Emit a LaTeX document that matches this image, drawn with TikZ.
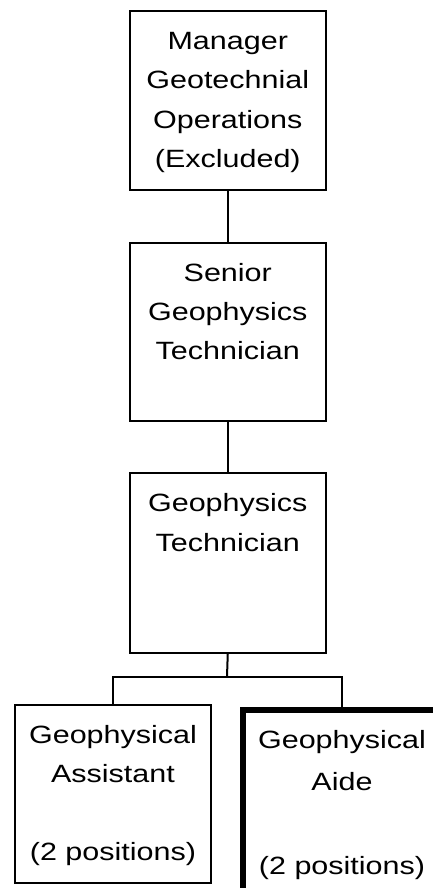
\documentclass[tikz,border=0pt]{standalone}
\usepackage{fontspec}
\setmainfont{Liberation Sans}[FakeStretch=1.22]
\begin{document}
\begin{tikzpicture}[x=1pt,y=-1pt,
  orgbox/.style={draw=black, line width=2pt, inner sep=0pt, anchor=north west, fill=white},
  thickbox/.style={orgbox, line width=6pt},
  conn/.style={draw=black, line width=2pt}]
\useasboundingbox (0,0) rectangle (432,888);
\fill[white] (0,0) rectangle (432,888);
\newcommand{\orgtext}[4]{\parbox[t][#2pt][t]{#1pt}{\centering\fontsize{25}{#3}\selectfont\rule{0pt}{38.5pt}#4\par}}
\node[orgbox] (m) at (129,10) {\orgtext{195.5}{179}{39.5}{Manager\\Geotechnial\\Operations\\(Excluded)}};
\node[orgbox] (s) at (129,242) {\orgtext{195.5}{178}{39}{Senior\\Geophysics\\Technician}};
\node[orgbox] (t) at (129,472) {\orgtext{195.5}{180}{40}{Geophysics\\Technician}};
\node[orgbox] (a) at (14,704) {\orgtext{196}{178}{39}{Geophysical\\Assistant\\[39pt](2 positions)}};
\node[thickbox] (b) at (239.5,706.5) {\orgtext{199}{186}{42}{Geophysical\\Aide\\[42pt](2 positions)}};
\coordinate (bar) at (227,676.5);
\draw[conn] (m.south) -- (s.north);
\draw[conn] (s.south) -- (t.north);
\draw[conn] (t.south) -- (bar);
\draw[conn] (a.north) |- (bar) -| (b.north);
\end{tikzpicture}
\end{document}
